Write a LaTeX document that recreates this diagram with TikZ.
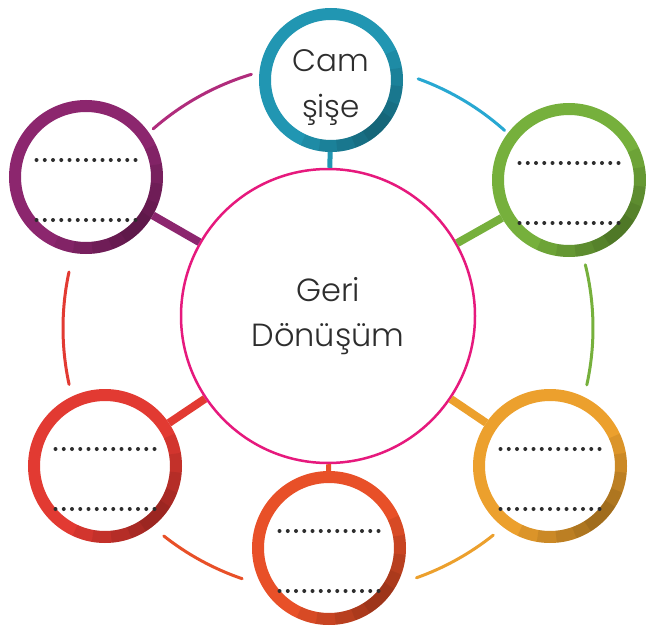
\documentclass[tikz,border=0pt]{standalone}
\usepackage{fontspec}
\setmainfont{Poppins Light}
\usepackage{tikz}
\definecolor{camteal}{RGB}{33,150,178}
\definecolor{linkteal}{RGB}{40,168,210}
\definecolor{plum}{RGB}{140,38,110}
\definecolor{linkplum}{RGB}{176,44,124}
\definecolor{leafgreen}{RGB}{118,176,60}
\definecolor{amber}{RGB}{236,160,45}
\definecolor{brickred}{RGB}{226,58,50}
\definecolor{vermil}{RGB}{232,80,40}
\definecolor{hubpink}{RGB}{230,25,125}
\definecolor{inkgray}{RGB}{45,45,45}

\begin{document}
\begin{tikzpicture}[
    x=1pt, y=-1pt,
    ring/.style={circle, draw=#1, line width=12pt, fill=white,
                 minimum size=142pt, inner sep=0pt},
    hub/.style={circle, draw=hubpink, line width=2.5pt, fill=white,
                minimum size=294pt, inner sep=0pt, align=center,
                font={\fontsize{32}{45}\selectfont}, text=inkgray},
    word/.style={align=center, font={\fontsize{31}{46}\selectfont}, text=inkgray},
    link/.style={draw=#1, line width=3pt, line cap=round},
    spoke/.style={draw=#1, line width=8pt},
    ringshadow/.style={draw=black, line width=12pt, opacity=.07},
    dotrow/.style={draw=inkgray, line width=4pt, line cap=round,
                   dash pattern=on 0pt off 8.25pt},
]
    \useasboundingbox (0,0) rectangle (646,634);
    \coordinate (mid) at (328,328);

    % Centre
    \node[hub] (geri) at (328,316) {Geri\\Dönüşüm};

    % Outer circles
    \node[ring=camteal, minimum size=132pt] (cam) at (331,80) {};
    \node[ring=plum] (nw) at (86,177) {};
    \node[ring=leafgreen] (ne) at (569,180) {};
    \node[ring=amber] (se) at (550,466) {};
    \node[ring=vermil] (so) at (329,548) {};
    \node[ring=brickred] (sw) at (105,466) {};

    \node[word] (camtext) at ([yshift=-8pt]cam.center) {Cam\\şişe};

    % Darker lower right of each ring
    \foreach \n/\r in {cam/66, nw/71, ne/71, se/71, so/71, sw/71}
        \foreach \a/\b in {-25/115, -10/100, 5/85, 20/70, 32/58}
            \draw[ringshadow] ([shift={(\a:\r)}]\n.center)
                arc[start angle=\a, end angle=\b, radius=\r];

    % Spokes
    \draw[spoke=camteal, line width=5pt] (geri) -- (cam);
    \draw[spoke=plum] (geri) -- (nw);
    \draw[spoke=leafgreen] (geri) -- (ne);
    \draw[spoke=amber] (geri) -- (se);
    \draw[spoke=vermil, line width=5pt] (geri) -- (so);
    \draw[spoke=brickred] (geri) -- (sw);

    % Outer ring of links
    \foreach \c/\a/\b in {linkplum/-131.3/-106.8, linkteal/-70.1/-48.2,
                          leafgreen/-13.8/12.4, amber/51.4/70.5,
                          vermil/108.9/128.3, brickred/167.7/192.2}
        \draw[link=\c] ([shift={(\a:265)}]mid)
            arc[start angle=\a, end angle=\b, radius=265];

    % Blanks to fill in
    \foreach \n in {nw, ne, se, so, sw} {
        \draw[dotrow] ([shift={(-49.5,-17)}]\n.center) -- ([shift={(49.5,-17)}]\n.center);
        \draw[dotrow] ([shift={(-49.5,43)}]\n.center) -- ([shift={(49.5,43)}]\n.center);
    }
\end{tikzpicture}
\end{document}
